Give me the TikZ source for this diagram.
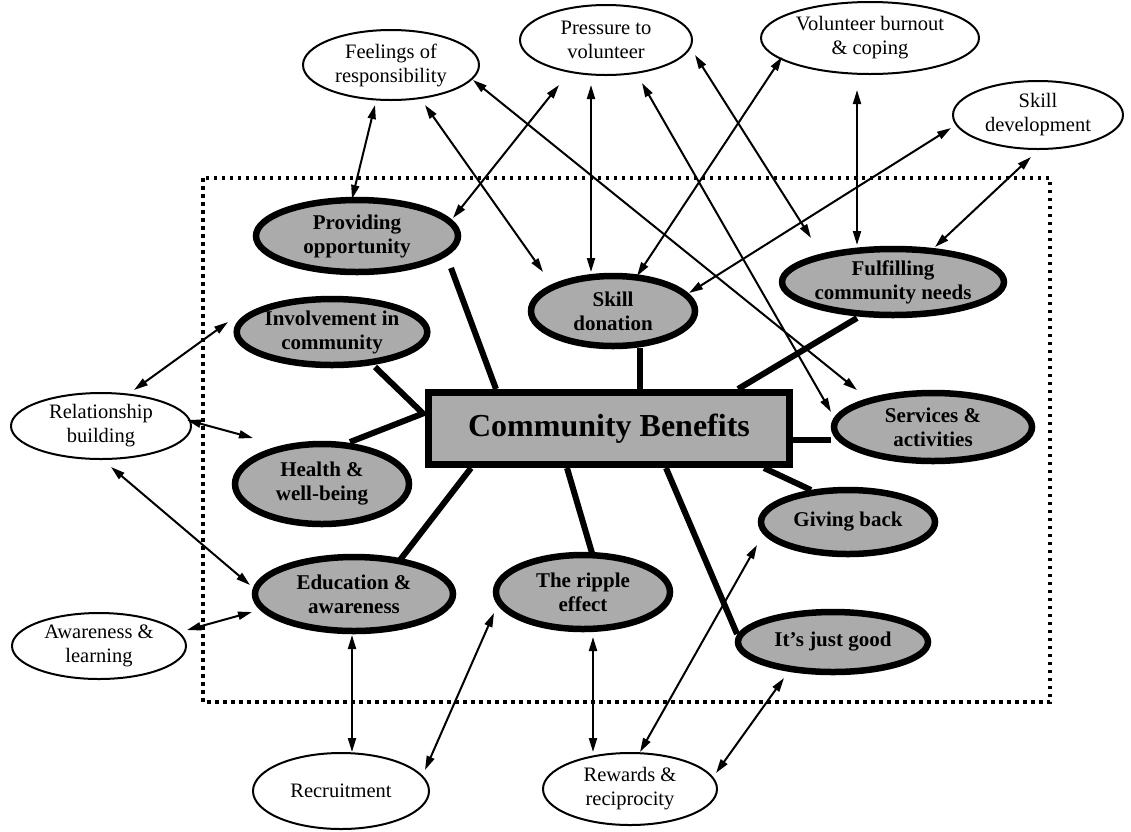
\documentclass[tikz,border=0pt]{standalone}
\usepackage{fontspec}
\setmainfont{Liberation Serif}
\usetikzlibrary{shapes.geometric,arrows.meta,calc}

\tikzset{
  outer/.style={ellipse, draw, line width=2pt, fill=white, align=center,
    inner sep=0pt, font=\fontsize{20.5}{24}\selectfont},
  theme/.style={ellipse, draw, line width=6.5pt, fill=black!33, align=center,
    inner sep=0pt, font=\bfseries\fontsize{21}{24}\selectfont},
  core/.style={rectangle, draw, line width=7pt, fill=black!33, inner sep=0pt,
    font=\bfseries\fontsize{32}{38}\selectfont},
  link/.style={line width=2pt, {Triangle[length=14pt,width=8pt]}-{Triangle[length=14pt,width=8pt]}},
  spoke/.style={line width=6pt},
  frame/.style={line width=3.5pt, dash pattern=on 3.5pt off 4.5pt}
}

\begin{document}
\begin{tikzpicture}[x=1pt,y=-1pt]
\useasboundingbox (0,0) rectangle (1131,831);

% dotted frame around the core themes
\draw[frame] (203,178) rectangle (1050,702);

% core
\node[core, minimum width=361, minimum height=72] (box) at (609,428.5) {Community Benefits};

% themes inside the frame
\node[theme, minimum width=202, minimum height=72] (prov)   at (357,236) {Providing\\opportunity};
\node[theme, minimum width=190, minimum height=66] (invol)  at (332,332) {Involvement in\\community};
\node[theme, minimum width=174, minimum height=80] (health) at (322,484) {Health \&\\well-being};
\node[theme, minimum width=198, minimum height=74] (educ)   at (354,594) {Education \&\\awareness};
\node[theme, minimum width=174, minimum height=74] (ripple) at (583,592) {The ripple\\effect};
\node[theme, minimum width=164, minimum height=70] (skdon)  at (613,311) {Skill\\donation};
\node[theme, minimum width=218, minimum height=66] (fulf)   at (893,282) {Fulfilling\\community needs};
\node[theme, minimum width=198, minimum height=68] (serv)   at (933,427) {Services \&\\activities};
\node[theme, minimum width=174, minimum height=64] (give)   at (848,522) {Giving back};
\node[theme, minimum width=190, minimum height=60] (good)   at (833,642) {It’s just good};

% outer factors
\node[outer, minimum width=176, minimum height=70] (feel)  at (391,65)   {Feelings of\\responsibility};
\node[outer, minimum width=172, minimum height=70] (press) at (606,40)   {Pressure to\\volunteer};
\node[outer, minimum width=218, minimum height=72] (burn)  at (870,38)   {Volunteer burnout\\\& coping};
\node[outer, minimum width=170, minimum height=68] (skdev) at (1038,115) {Skill\\development};
\node[outer, minimum width=180, minimum height=66] (relb)  at (101,426)  {Relationship\\building};
\node[outer, minimum width=174, minimum height=66] (awl)   at (99,646)   {Awareness \&\\learning};
\node[outer, minimum width=176, minimum height=76] (recr)  at (341,791)  {Recruitment};
\node[outer, minimum width=174, minimum height=72] (rew)   at (630,789)  {Rewards \&\\reciprocity};

% spokes from the core to each theme
\draw[spoke] ($(prov)+(94,32)$)   -- ($(box)+(-113,-39.5)$);
\draw[spoke] ($(invol)+(43,35)$)  -- ($(box)+(-186,-15)$) -- ($(health)+(28,-42)$);
\draw[spoke] ($(educ)+(46,-34)$)  -- ($(box)+(-138,39.5)$);
\draw[spoke] ($(ripple)+(9,-39)$) -- ($(box)+(-42,39.5)$);
\draw[spoke] ($(good)+(-96,-8)$)  -- ($(box)+(57,39.5)$);
\draw[spoke] ($(give)+(-37,-32)$) -- ($(box)+(155,39.5)$);
\draw[spoke] ($(serv)+(-102,13)$) -- ($(box)+(184,11.5)$);
\draw[spoke] ($(fulf)+(-36,36)$)  -- ($(box)+(129,-39.5)$);
\draw[spoke] ($(skdon)+(27,37)$)  -- ($(box)+(31,-39.5)$);

% two-way links between outer factors and themes
\draw[link] ($(feel)+(-16,40)$)  -- ($(prov)+(-5,-37)$);
\draw[link] ($(feel)+(34,40)$)   -- ($(skdon)+(-70,-39)$);
\draw[link] ($(feel)+(82,15)$)   -- ($(serv)+(-76,-37)$);
\draw[link] ($(press)+(-47,45)$) -- ($(prov)+(96,-18)$);
\draw[link] ($(press)+(-15,45)$) -- ($(skdon)+(-22,-39)$);
\draw[link] ($(press)+(36,43)$)  -- ($(serv)+(-102,-15)$);
\draw[link] ($(press)+(89,15)$)  -- ($(fulf)+(-82,-44)$);
\draw[link] ($(burn)+(-88,19)$)  -- ($(skdon)+(24,-35)$);
\draw[link] ($(burn)+(-13,52)$)  -- ($(fulf)+(-36,-37)$);
\draw[link] ($(skdev)+(-87,13)$) -- ($(skdon)+(76,-18)$);
\draw[link] ($(skdev)+(-7,42)$)  -- ($(fulf)+(42,-35)$);
\draw[link] ($(relb)+(33,-36)$)  -- ($(invol)+(-104,-10)$);
\draw[link] ($(relb)+(86,-6)$)   -- ($(health)+(-69,-46)$);
\draw[link] ($(relb)+(10,41)$)   -- ($(educ)+(-104,-9)$);
\draw[link] ($(awl)+(88,-16)$)   -- ($(educ)+(-102,18)$);
\draw[link] ($(educ)+(-2,41)$)   -- ($(recr)+(11,-39)$);
\draw[link] ($(recr)+(84,-21)$)  -- ($(ripple)+(-89,21)$);
\draw[link] ($(ripple)+(10,45)$) -- ($(rew)+(-37,-37)$);
\draw[link] ($(rew)+(10,-37)$)   -- ($(give)+(-91,23)$);
\draw[link] ($(rew)+(86,-16)$)   -- ($(good)+(-49,36)$);
\end{tikzpicture}
\end{document}
